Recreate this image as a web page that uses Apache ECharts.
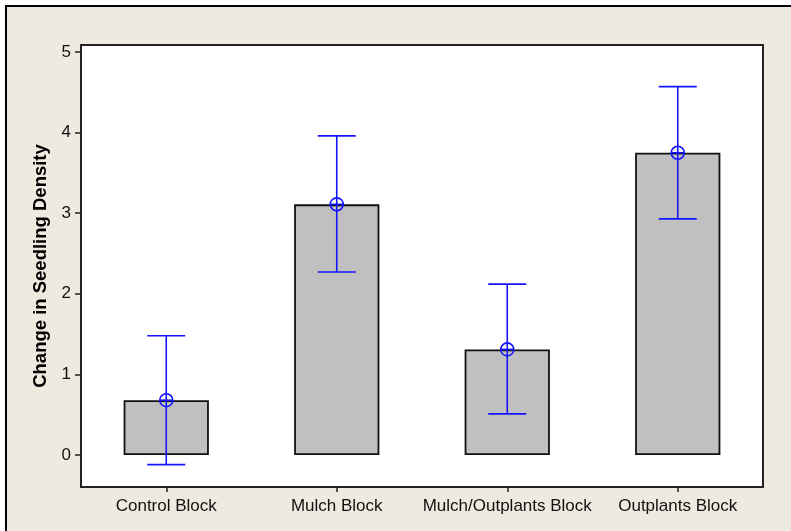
<!DOCTYPE html>
<html>
<head>
<meta charset="utf-8">
<script src="https://cdn.jsdelivr.net/npm/echarts@6/dist/echarts.min.js"></script>
<style>
html,body{margin:0;padding:0;background:#ffffff;}
#chart{width:791px;height:531px;}
</style>
</head>
<body>
<div id="chart"></div>
<script>
const categories = ['Control Block', 'Mulch Block', 'Mulch/Outplants Block', 'Outplants Block'];
const means = [0.68, 3.11, 1.31, 3.75];
const upper = [1.48, 3.96, 2.12, 4.57];
const lower = [-0.12, 2.27, 0.51, 2.93];
const yTicks = [0, 1, 2, 3, 4, 5];
const yTitle = 'Change in Seedling Density';

const chart = echarts.init(document.getElementById('chart'), null, {renderer: 'canvas'});
const errData = categories.map((c, i) => [i, lower[i], upper[i], means[i]]);
const blue = '#1414ff';
const FONT = '"Liberation Sans", Arial, sans-serif';

chart.setOption({
  backgroundColor: '#ffffff',
  animation: false,
  graphic: [{
    type: 'rect', z: -10, silent: true,
    shape: {x: 6, y: 6, width: 820, height: 560},
    style: {fill: '#EEEAE0', stroke: '#000000', lineWidth: 2}
  }],
  grid: {
    left: 81, right: 28, top: 45, bottom: 44,
    show: true, backgroundColor: '#ffffff', borderColor: '#222222', borderWidth: 2
  },
  xAxis: {
    type: 'category',
    data: categories,
    axisLine: {show: false, onZero: false},
    axisTick: {show: true, alignWithLabel: true, interval: 0, length: 5, lineStyle: {color: '#222', width: 1.5}},
    axisLabel: {color: '#111', fontFamily: FONT, fontSize: 17, margin: 11, interval: 0}
  },
  yAxis: {
    type: 'value',
    min: -0.397, max: 5.087,
    splitLine: {show: false},
    axisLine: {show: false},
    axisTick: {show: true, length: 6, customValues: yTicks, lineStyle: {color: '#222', width: 1.5}},
    axisLabel: {color: '#111', fontFamily: FONT, fontSize: 17, margin: 10, customValues: yTicks},
    name: yTitle,
    nameLocation: 'middle',
    nameGap: 28,
    nameTextStyle: {fontFamily: FONT, fontSize: 18.5, fontWeight: 'bold', color: '#000'}
  },
  series: [{
    type: 'bar',
    data: means,
    barWidth: '50%',
    itemStyle: {color: '#C0C0C0', borderColor: '#111111', borderWidth: 1.8},
    z: 2
  }, {
    type: 'custom',
    data: errData,
    z: 5,
    renderItem: function (params, api) {
      const i = api.value(0);
      const lo = api.coord([i, api.value(1)]);
      const hi = api.coord([i, api.value(2)]);
      const m = api.coord([i, api.value(3)]);
      const hw = 19, r = 6.5;
      const st = {stroke: blue, lineWidth: 1.6, fill: null};
      return {
        type: 'group',
        children: [
          {type: 'line', shape: {x1: hi[0], y1: hi[1], x2: lo[0], y2: lo[1]}, style: st},
          {type: 'line', shape: {x1: hi[0] - hw, y1: hi[1], x2: hi[0] + hw, y2: hi[1]}, style: st},
          {type: 'line', shape: {x1: lo[0] - hw, y1: lo[1], x2: lo[0] + hw, y2: lo[1]}, style: st},
          {type: 'circle', shape: {cx: m[0], cy: m[1], r: r}, style: {stroke: blue, lineWidth: 1.6, fill: 'transparent'}},
          {type: 'line', shape: {x1: m[0] - r, y1: m[1], x2: m[0] + r, y2: m[1]}, style: st}
        ]
      };
    }
  }]
});
</script>
</body>
</html>
